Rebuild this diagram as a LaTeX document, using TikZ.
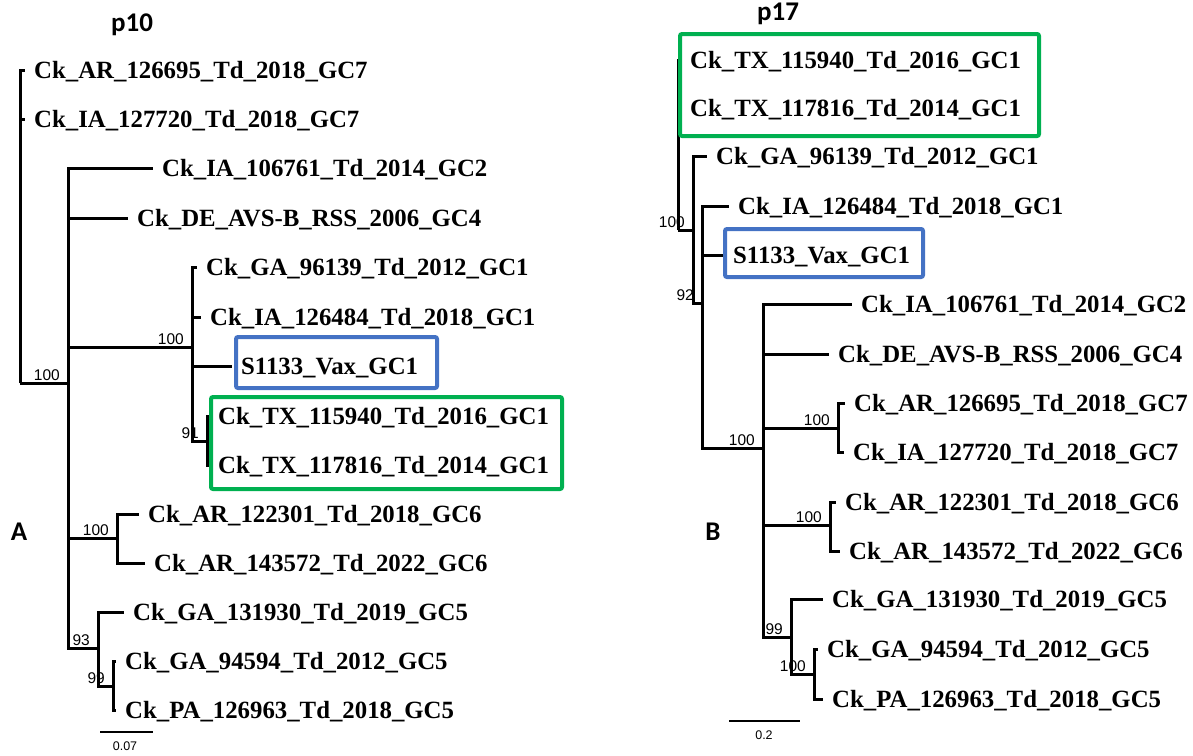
\documentclass[tikz,border=0pt]{standalone}
\usepackage{fontspec}
\setmainfont{Liberation Serif}
\newfontfamily\labelfont{Carlito}
\newfontfamily\bootfont{Liberation Sans}
\usepackage{xcolor}
\usepackage{tikz}

\definecolor{boxblue}{HTML}{4472C4}
\definecolor{boxgreen}{HTML}{00B050}

\begin{document}
\begin{tikzpicture}[
			x=1pt, y=-1pt,
			leaf/.style={anchor=west, inner xsep=9pt, inner ysep=0pt, text height=16pt, text depth=0pt, font=\bfseries\fontsize{24.8}{26}\selectfont},
			boot/.style={anchor=south east, inner sep=0pt, xshift=-8pt, yshift=2.5pt, font=\bootfont\fontsize{15.5}{15.5}\selectfont},
			panel/.style={anchor=base, inner sep=0pt, font=\labelfont\bfseries\fontsize{27}{27}\selectfont},
			branch/.style={draw, line width=3pt},
			scalebar/.style={draw, line width=1.2pt},
			scalelab/.style={inner sep=0pt, font=\bootfont\fontsize{12.5}{12.5}\selectfont},
			hlbox/.style={draw, line width=4pt, rounded corners=2pt}
			]
			\useasboundingbox (0,0) rectangle (1193,755);

			% Titulos
			\node [panel] (tA) at (132,31) {p10};
			\node [panel] (tB) at (778,20) {p17};
			\node [panel] (pA) at (19,540) {A};
			\node [panel] (pB) at (713,540) {B};

			% Arbol A: nodos internos
			\coordinate (ra) at (20,383);
			\coordinate (ca) at (68,383);
			\coordinate (gc1a) at (192,347);
			\coordinate (txa) at (207,441);
			\coordinate (gc6a) at (117,538);
			\coordinate (gc5a) at (98,648);
			\coordinate (gc5ba) at (113,686);

			% Arbol A: hojas
			\node [leaf] (a1) at (25,70) {Ck\_AR\_126695\_Td\_2018\_GC7};
			\node [leaf] (a2) at (25,119) {Ck\_IA\_127720\_Td\_2018\_GC7};
			\node [leaf] (a3) at (153,168) {Ck\_IA\_106761\_Td\_2014\_GC2};
			\node [leaf] (a4) at (128,218) {Ck\_DE\_AVS-B\_RSS\_2006\_GC4};
			\node [leaf] (a5) at (197,267) {Ck\_GA\_96139\_Td\_2012\_GC1};
			\node [leaf] (a6) at (201,317) {Ck\_IA\_126484\_Td\_2018\_GC1};
			\node [leaf] (a7) at (232,366) {S1133\_Vax\_GC1};
			\node [leaf] (a8) at (209,416) {Ck\_TX\_115940\_Td\_2016\_GC1};
			\node [leaf] (a9) at (209,465) {Ck\_TX\_117816\_Td\_2014\_GC1};
			\node [leaf] (a10) at (139,514) {Ck\_AR\_122301\_Td\_2018\_GC6};
			\node [leaf] (a11) at (145,563) {Ck\_AR\_143572\_Td\_2022\_GC6};
			\node [leaf] (a12) at (124,612) {Ck\_GA\_131930\_Td\_2019\_GC5};
			\node [leaf] (a13) at (116,661) {Ck\_GA\_94594\_Td\_2012\_GC5};
			\node [leaf] (a14) at (116,710) {Ck\_PA\_126963\_Td\_2018\_GC5};

			% Arbol A: ramas
			\path [branch] (ra) |- (a1.west);
			\path [branch] (ra) |- (a2.west);
			\path [branch] (ra) -- (ca);
			\path [branch] (ca) |- (a3.west);
			\path [branch] (ca) |- (a4.west);
			\path [branch] (ca) |- (gc1a);
			\path [branch] (ca) |- (gc6a);
			\path [branch] (ca) |- (gc5a);
			\path [branch] (gc1a) |- (a5.west);
			\path [branch] (gc1a) |- (a6.west);
			\path [branch] (gc1a) |- (a7.west);
			\path [branch] (gc1a) |- (txa);
			\path [branch] (txa) |- (a8.west);
			\path [branch] (txa) |- (a9.west);
			\path [branch] (gc6a) |- (a10.west);
			\path [branch] (gc6a) |- (a11.west);
			\path [branch] (gc5a) |- (a12.west);
			\path [branch] (gc5a) |- (gc5ba);
			\path [branch] (gc5ba) |- (a13.west);
			\path [branch] (gc5ba) |- (a14.west);

			% Arbol A: soporte
			\node [boot] (bsa1) at (ca) {100};
			\node [boot] (bsa2) at (gc1a) {100};
			\node [boot] (bsa3) at (txa) {91};
			\node [boot] (bsa4) at (gc6a) {100};
			\node [boot] (bsa5) at (gc5a) {93};
			\node [boot] (bsa6) at (gc5ba) {99};

			% Arbol A: escala
			\coordinate (sa1) at (100,732);
			\coordinate (sa2) at (153,732);
			\path [scalebar] (sa1) -- (sa2);
			\node [scalelab] (sla) at (125,746) {0.07};

			% Arbol B: nodos internos
			\coordinate (rb) at (678,230);
			\coordinate (bb) at (693,230);
			\coordinate (cb) at (702,303);
			\coordinate (db) at (763,448);
			\coordinate (gc7b) at (838,428);
			\coordinate (gc6b) at (830,525);
			\coordinate (gc5b) at (791,637);
			\coordinate (gc5bb) at (814,674);

			% Arbol B: hojas
			\node [leaf] (b1) at (681,60) {Ck\_TX\_115940\_Td\_2016\_GC1};
			\node [leaf] (b2) at (681,108) {Ck\_TX\_117816\_Td\_2014\_GC1};
			\node [leaf] (b3) at (707,156) {Ck\_GA\_96139\_Td\_2012\_GC1};
			\node [leaf] (b4) at (729,206) {Ck\_IA\_126484\_Td\_2018\_GC1};
			\node [leaf] (b5) at (724,255) {S1133\_Vax\_GC1};
			\node [leaf] (b6) at (852,304) {Ck\_IA\_106761\_Td\_2014\_GC2};
			\node [leaf] (b7) at (829,354) {Ck\_DE\_AVS-B\_RSS\_2006\_GC4};
			\node [leaf] (b8) at (845,403) {Ck\_AR\_126695\_Td\_2018\_GC7};
			\node [leaf] (b9) at (844,452) {Ck\_IA\_127720\_Td\_2018\_GC7};
			\node [leaf] (b10) at (836,502) {Ck\_AR\_122301\_Td\_2018\_GC6};
			\node [leaf] (b11) at (840,551) {Ck\_AR\_143572\_Td\_2022\_GC6};
			\node [leaf] (b12) at (823,599) {Ck\_GA\_131930\_Td\_2019\_GC5};
			\node [leaf] (b13) at (818,649) {Ck\_GA\_94594\_Td\_2012\_GC5};
			\node [leaf] (b14) at (823,699) {Ck\_PA\_126963\_Td\_2018\_GC5};

			% Arbol B: ramas
			\path [branch] (rb) |- (b1.west);
			\path [branch] (rb) |- (b2.west);
			\path [branch] (rb) -- (bb);
			\path [branch] (bb) |- (b3.west);
			\path [branch] (bb) |- (cb);
			\path [branch] (cb) |- (b4.west);
			\path [branch] (cb) |- (b5.west);
			\path [branch] (cb) |- (db);
			\path [branch] (db) |- (b6.west);
			\path [branch] (db) |- (b7.west);
			\path [branch] (db) |- (gc7b);
			\path [branch] (db) |- (gc6b);
			\path [branch] (db) |- (gc5b);
			\path [branch] (gc7b) |- (b8.west);
			\path [branch] (gc7b) |- (b9.west);
			\path [branch] (gc6b) |- (b10.west);
			\path [branch] (gc6b) |- (b11.west);
			\path [branch] (gc5b) |- (b12.west);
			\path [branch] (gc5b) |- (gc5bb);
			\path [branch] (gc5bb) |- (b13.west);
			\path [branch] (gc5bb) |- (b14.west);

			% Arbol B: soporte
			\node [boot] (bsb1) at (bb) {100};
			\node [boot] (bsb2) at (cb) {92};
			\node [boot] (bsb3) at (db) {100};
			\node [boot] (bsb4) at (gc7b) {100};
			\node [boot] (bsb5) at (gc6b) {100};
			\node [boot] (bsb6) at (gc5b) {99};
			\node [boot] (bsb7) at (gc5bb) {100};

			% Arbol B: escala
			\coordinate (sb1) at (729,721);
			\coordinate (sb2) at (800,721);
			\path [scalebar] (sb1) -- (sb2);
			\node [scalelab] (slb) at (764,735) {0.2};

			% Recuadros
			\draw [hlbox, boxblue] (236,337) rectangle (437,388);
			\draw [hlbox, boxgreen] (211,397) rectangle (562,489);
			\draw [hlbox, boxgreen] (680,34) rectangle (1039,136);
			\draw [hlbox, boxblue] (725,229) rectangle (923,277);
		\end{tikzpicture}
\end{document}
